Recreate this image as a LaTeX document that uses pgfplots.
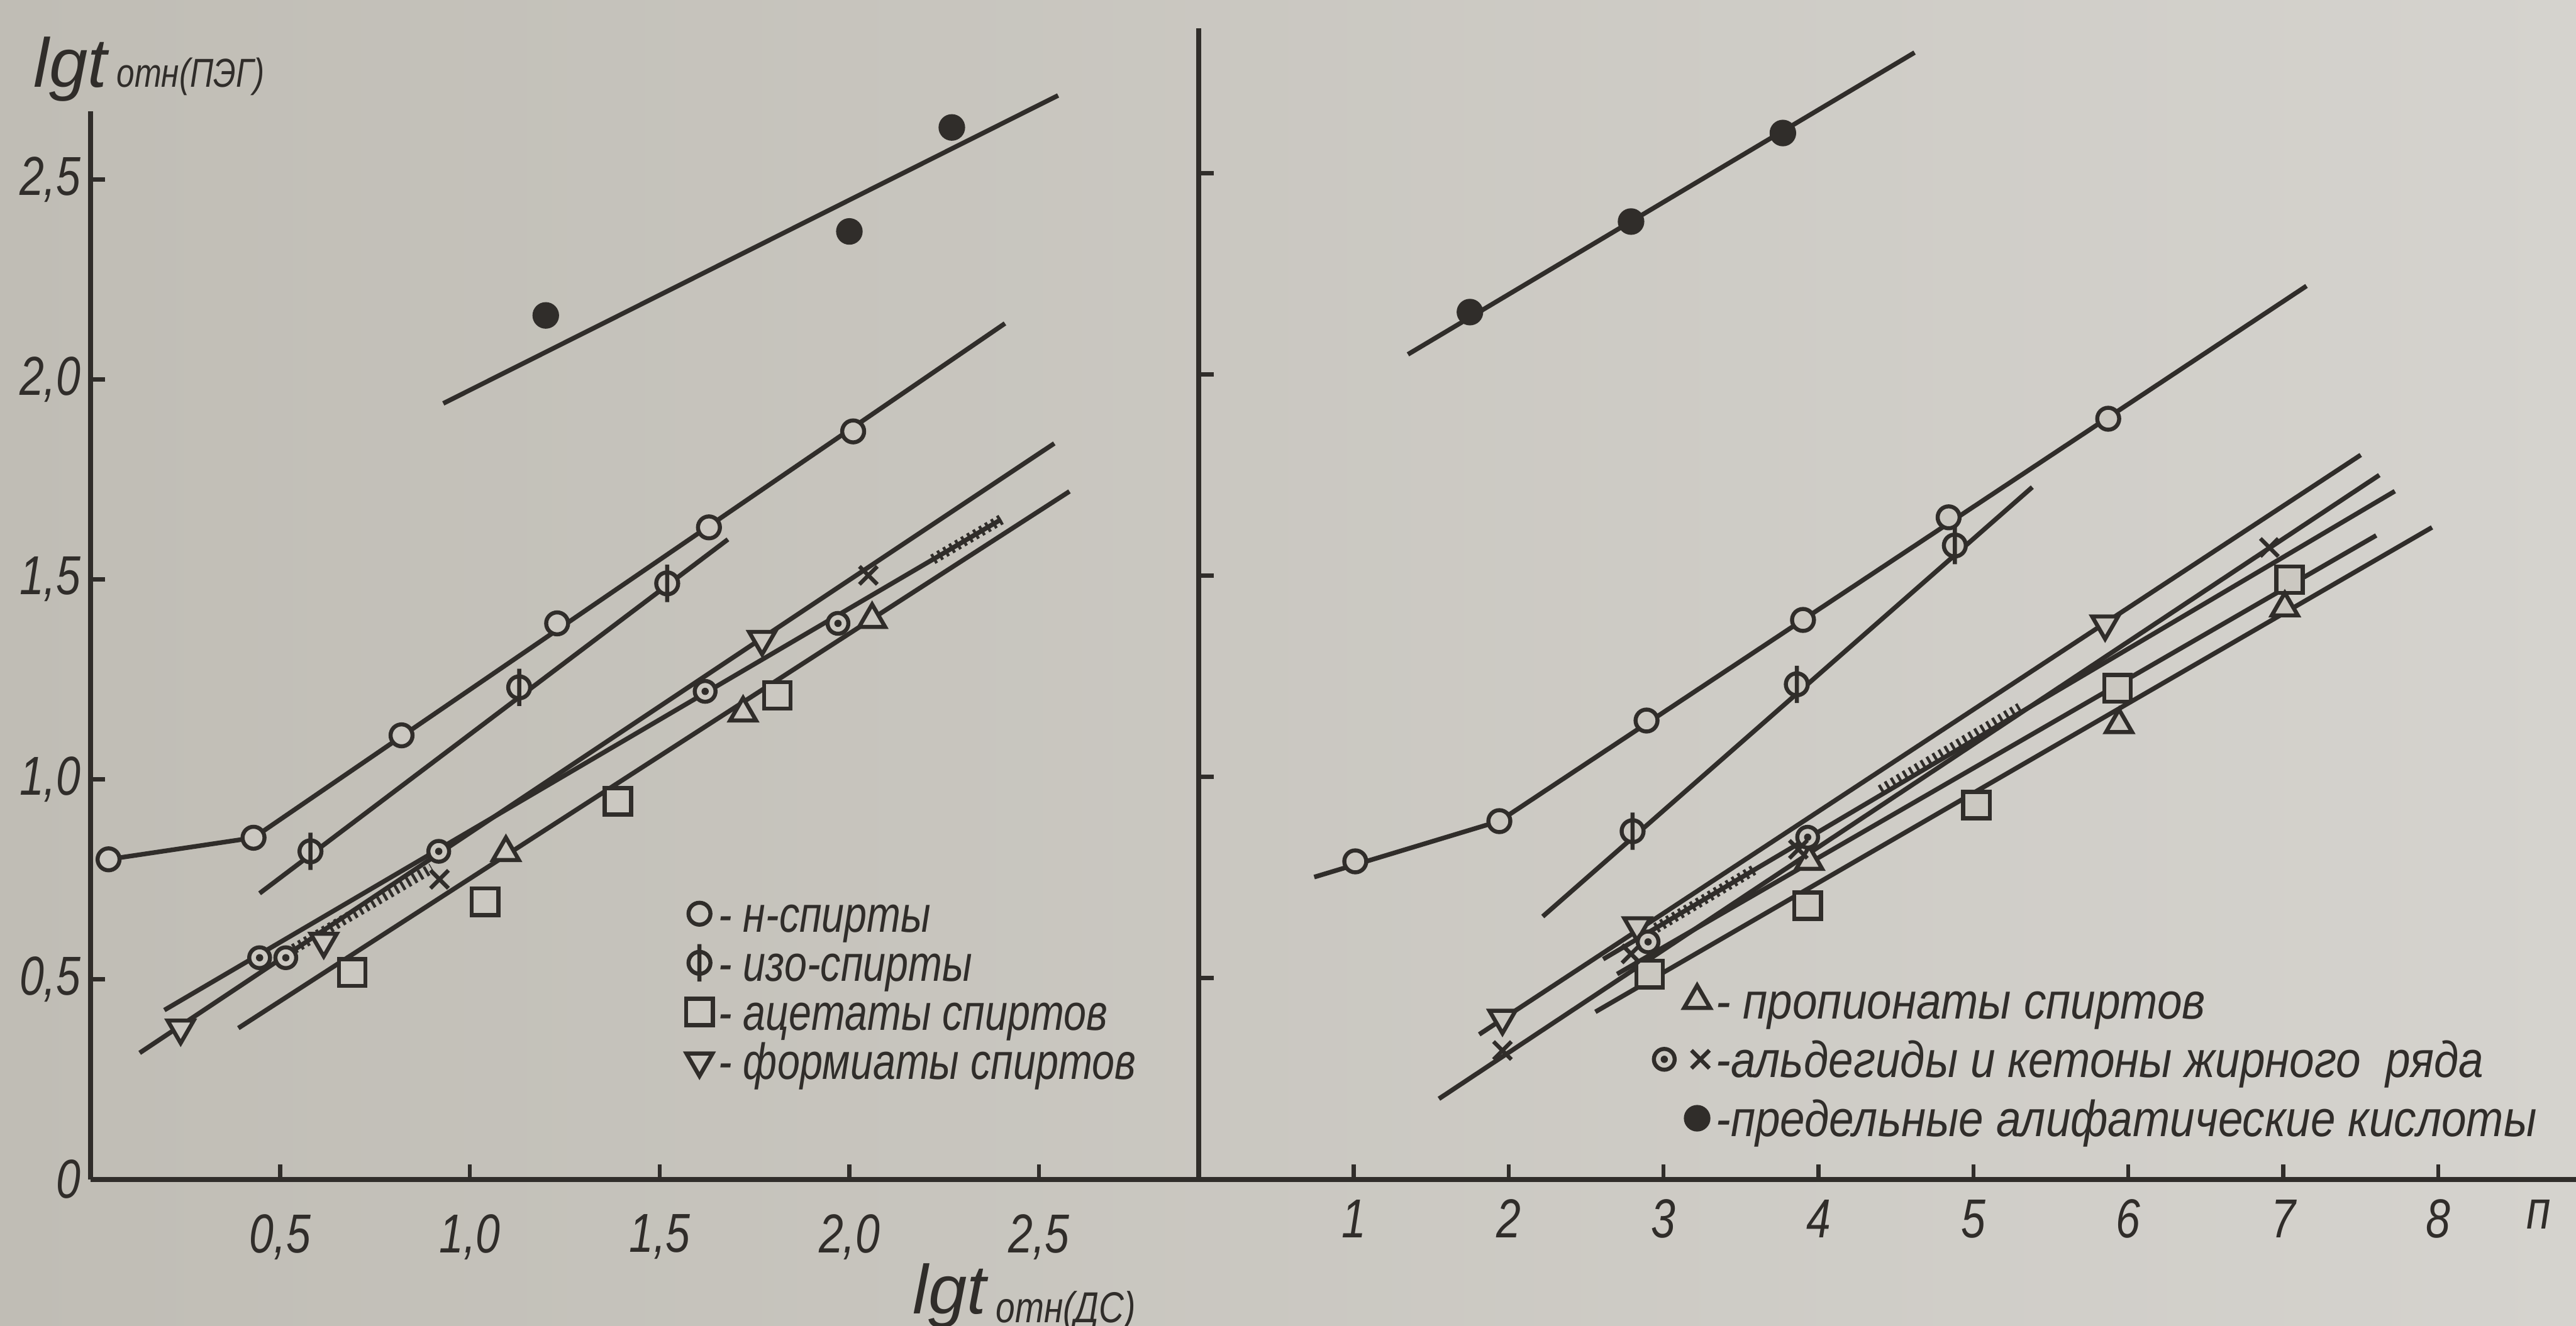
\documentclass[border=0pt]{standalone}
\usepackage{fontspec}
\setmainfont{Liberation Sans}
\newfontfamily\condL{Liberation Sans}[FakeStretch=0.80]
\newfontfamily\condR{Liberation Sans}[FakeStretch=0.88]
\usepackage{pgfplots}
\pgfplotsset{compat=1.18}
\definecolor{paperL}{RGB}{192,189,181}
\definecolor{paperR}{RGB}{213,211,206}
\definecolor{paper}{RGB}{203,200,193}
\definecolor{ink}{RGB}{48,45,42}

\pgfdeclareplotmark{phi}{%
  \pgfpathcircle{\pgfpointorigin}{\pgfplotmarksize}%
  \pgfpathmoveto{\pgfpoint{0pt}{-1.7\pgfplotmarksize}}%
  \pgfpathlineto{\pgfpoint{0pt}{1.7\pgfplotmarksize}}%
  \pgfusepathqfillstroke}
\pgfdeclareplotmark{odot}{%
  \pgfpathcircle{\pgfpointorigin}{\pgfplotmarksize}%
  \pgfusepathqfillstroke
  \begin{pgfscope}%
  \pgfsetfillcolor{ink}%
  \pgfpathcircle{\pgfpointorigin}{0.35\pgfplotmarksize}%
  \pgfusepathqfill
  \end{pgfscope}}

\pgfplotsset{
  chartstyle/.style={
    axis lines=left,
    axis line style={-, line width=0.9pt, ink},
    tick style={line width=0.7pt, ink},
    tick align=inside,
    major tick length=0.09cm,
    enlargelimits=false,
    clip=false,
    ticklabel style={font=\fontsize{9.5}{10}\condL\itshape, text=ink},
    every axis plot/.append style={ink, line width=0.8pt},
    legend style={draw=none, fill=none, inner sep=0pt, text=ink,
      nodes={inner sep=1pt, text height=1.5ex, text depth=0.3ex}},
    legend cell align=left,
    legend image code/.code={\draw[##1] plot coordinates {(0.12cm,0cm)};},
  },
  hatch/.style={ink, line width=1.8pt, dash pattern=on 0.5pt off 0.7pt, forget plot},
}

\begin{document}
\begin{tikzpicture}
\useasboundingbox (-0.55cm,-0.89cm) rectangle (15.13cm,7.18cm);
\shade[left color=paperL, right color=paperR] (-0.55cm,-0.89cm) rectangle (15.13cm,7.18cm);

% ---------------- left panel ----------------
\begin{axis}[chartstyle,
  at={(0,0)}, anchor=south west,
  x=2.31cm, y=2.435cm,
  xmin=0, xmax=2.92, ymin=0, ymax=2.67,
  xtick={0.5,1,1.5,2,2.5}, xticklabels={{0,5},{1,0},{1,5},{2,0},{2,5}},
  ytick={0,0.5,1,1.5,2,2.5}, yticklabels={0,{0,5},{1,0},{1,5},{2,0},{2,5}},
  xticklabel style={yshift=-0.09cm},
  yticklabel style={inner sep=1.5pt},
  legend style={at={(axis cs:1.567,0.75)}, anchor=north west, row sep=-3pt,
    font=\fontsize{8.8}{10}\condL\itshape},
]
% acids
\addplot[forget plot] coordinates {(0.93,1.94) (2.55,2.71)};
\addplot[only marks, mark=*, mark size=1.9pt, forget plot] coordinates {(1.20,2.16) (2.00,2.37) (2.27,2.63)};
% aldehydes / ketones line
\addplot[forget plot] coordinates {(0.195,0.423) (2.40,1.65)};
\addplot[hatch] coordinates {(0.52,0.567) (0.90,0.778)};
\addplot[hatch] coordinates {(2.22,1.55) (2.40,1.65)};
% n-alcohols
\addplot[forget plot] coordinates {(0.048,0.80) (0.43,0.854) (2.41,2.14)};
\addplot[only marks, mark=*, mark size=1.9pt, mark options={fill=paper, line width=0.7pt}] coordinates {(0.048,0.80) (0.43,0.854) (0.82,1.11) (1.23,1.39) (1.63,1.63) (2.01,1.87)};
\addlegendentry{- н-спирты}
% iso-alcohols
\addplot[forget plot] coordinates {(0.446,0.715) (1.68,1.60)};
\addplot[only marks, mark=phi, mark size=1.9pt, mark options={fill=paper, line width=0.7pt}] coordinates {(0.58,0.82) (1.13,1.23) (1.52,1.49)};
\addlegendentry{- изо-спирты}
% acetates
\addplot[forget plot] coordinates {(0.39,0.378) (2.58,1.72)};
\addplot[only marks, mark=square*, mark size=2.3pt, mark options={fill=paper, line width=0.7pt}] coordinates {(0.69,0.517) (1.04,0.694) (1.39,0.945) (1.81,1.21)};
\addlegendentry{- ацетаты спиртов}
% formates
\addplot[forget plot] coordinates {(0.13,0.316) (2.54,1.84)};
\addplot[only marks, mark=triangle*, mark size=2.6pt, mark options={fill=paper, line width=0.7pt, rotate=180}] coordinates {(0.238,0.378) (0.615,0.595) (1.77,1.35)};
\addlegendentry{- формиаты спиртов}
% aldehydes, ketones, propionates
\addplot[only marks, mark=odot, mark size=1.8pt, mark options={fill=paper, line width=0.7pt}, forget plot] coordinates {(0.446,0.554) (0.515,0.554) (0.918,0.82) (1.62,1.22) (1.97,1.39)};
\addplot[only marks, mark=x, mark size=2.2pt, mark options={line width=0.7pt}, forget plot] coordinates {(0.92,0.75) (2.05,1.51)};
\addplot[only marks, mark=triangle*, mark size=2.6pt, mark options={fill=paper, line width=0.7pt}, forget plot] coordinates {(1.095,0.817) (1.72,1.166) (2.06,1.40)};

\node[anchor=west, text=ink, inner sep=0pt] at (axis cs:-0.152,2.776)
  {{\fontsize{12}{12}\selectfont\itshape lgt}\,{\fontsize{7}{7}\condL\itshape отн(ПЭГ)}};
\node[anchor=west, text=ink, inner sep=0pt] at (axis cs:2.165,-0.296)
  {{\fontsize{12}{12}\selectfont\itshape lgt}\,{\fontsize{7.5}{7.5}\condL\itshape\raisebox{-0.4ex}{отн(ДС)}}};
\end{axis}

% ---------------- right panel ----------------
\begin{axis}[chartstyle,
  at={(6.747cm,0)}, anchor=south west,
  x=0.943cm, y=2.45cm,
  xmin=0, xmax=8.89, ymin=0, ymax=2.86,
  xtick={1,2,3,4,5,6,7,8}, xticklabels={1,2,3,4,5,6,7,8},
  ytick={0.5,1,1.5,2,2.5}, yticklabels={\relax,\relax,\relax,\relax,\relax},
  extra x ticks={8.65}, extra x tick labels={п},
  extra x tick style={major tick length=0pt},
  legend style={at={(axis cs:2.93,0.53)}, anchor=north west, row sep=-1.3pt,
    font=\fontsize{8.8}{10}\condR\itshape},
]
% acids
\addplot[forget plot] coordinates {(1.35,2.05) (4.62,2.80)};
% n-alcohols
\addplot[forget plot] coordinates {(0.745,0.751) (1.94,0.89) (7.15,2.22)};
\addplot[only marks, mark=*, mark size=1.9pt, mark options={fill=paper, line width=0.7pt}, forget plot] coordinates {(1.01,0.79) (1.94,0.89) (2.89,1.14) (3.90,1.39) (4.84,1.645) (5.87,1.89)};
% iso-alcohols
\addplot[forget plot] coordinates {(2.22,0.653) (5.38,1.72)};
\addplot[only marks, mark=phi, mark size=1.9pt, mark options={fill=paper, line width=0.7pt}, forget plot] coordinates {(2.80,0.865) (3.86,1.23) (4.88,1.575)};
% lines of the lower bundle
\addplot[forget plot] coordinates {(1.81,0.36) (7.50,1.80)};
\addplot[forget plot] coordinates {(1.55,0.20) (7.62,1.75)};
\addplot[forget plot] coordinates {(2.61,0.547) (7.72,1.71)};
\addplot[forget plot] coordinates {(2.70,0.51) (7.60,1.60)};
\addplot[forget plot] coordinates {(2.56,0.416) (7.96,1.62)};
\addplot[hatch] coordinates {(2.95,0.624) (3.60,0.773)};
\addplot[hatch] coordinates {(4.40,0.967) (5.30,1.172)};
% formates
\addplot[only marks, mark=triangle*, mark size=2.6pt, mark options={fill=paper, line width=0.7pt, rotate=180}, forget plot] coordinates {(1.96,0.40) (2.83,0.63) (5.85,1.38)};
% acetates
\addplot[only marks, mark=square*, mark size=2.3pt, mark options={fill=paper, line width=0.7pt}, forget plot] coordinates {(2.91,0.51) (3.93,0.68) (5.02,0.93) (5.93,1.22) (7.04,1.49)};
% propionates
\addplot[only marks, mark=triangle*, mark size=2.6pt, mark options={fill=paper, line width=0.7pt}] coordinates {(3.94,0.79) (5.94,1.13) (7.01,1.42)};
\addlegendentry{- пропионаты спиртов}
% aldehydes + ketones
\addplot[only marks, mark=odot, mark size=1.8pt, mark options={fill=paper, line width=0.7pt},
  legend image code/.code={%
    \draw[mark=odot, mark size=1.8pt, mark options={fill=paper, line width=0.7pt}, ink] plot coordinates {(-0.08cm,0cm)};
    \draw[mark=x, mark size=2.2pt, mark options={line width=0.7pt}, ink] plot coordinates {(0.14cm,0cm)};}]
  coordinates {(2.90,0.59) (3.93,0.85)};
\addlegendentry{-альдегиды и кетоны жирного \ ряда}
\addplot[only marks, mark=x, mark size=2.2pt, mark options={line width=0.7pt}, forget plot] coordinates {(1.96,0.32) (2.79,0.56) (3.87,0.82) (6.91,1.57)};
% acids
\addplot[only marks, mark=*, mark size=1.9pt] coordinates {(1.75,2.155) (2.79,2.38) (3.77,2.60)};
\addlegendentry{-предельные алифатические кислоты}
\end{axis}
\end{tikzpicture}
\end{document}
